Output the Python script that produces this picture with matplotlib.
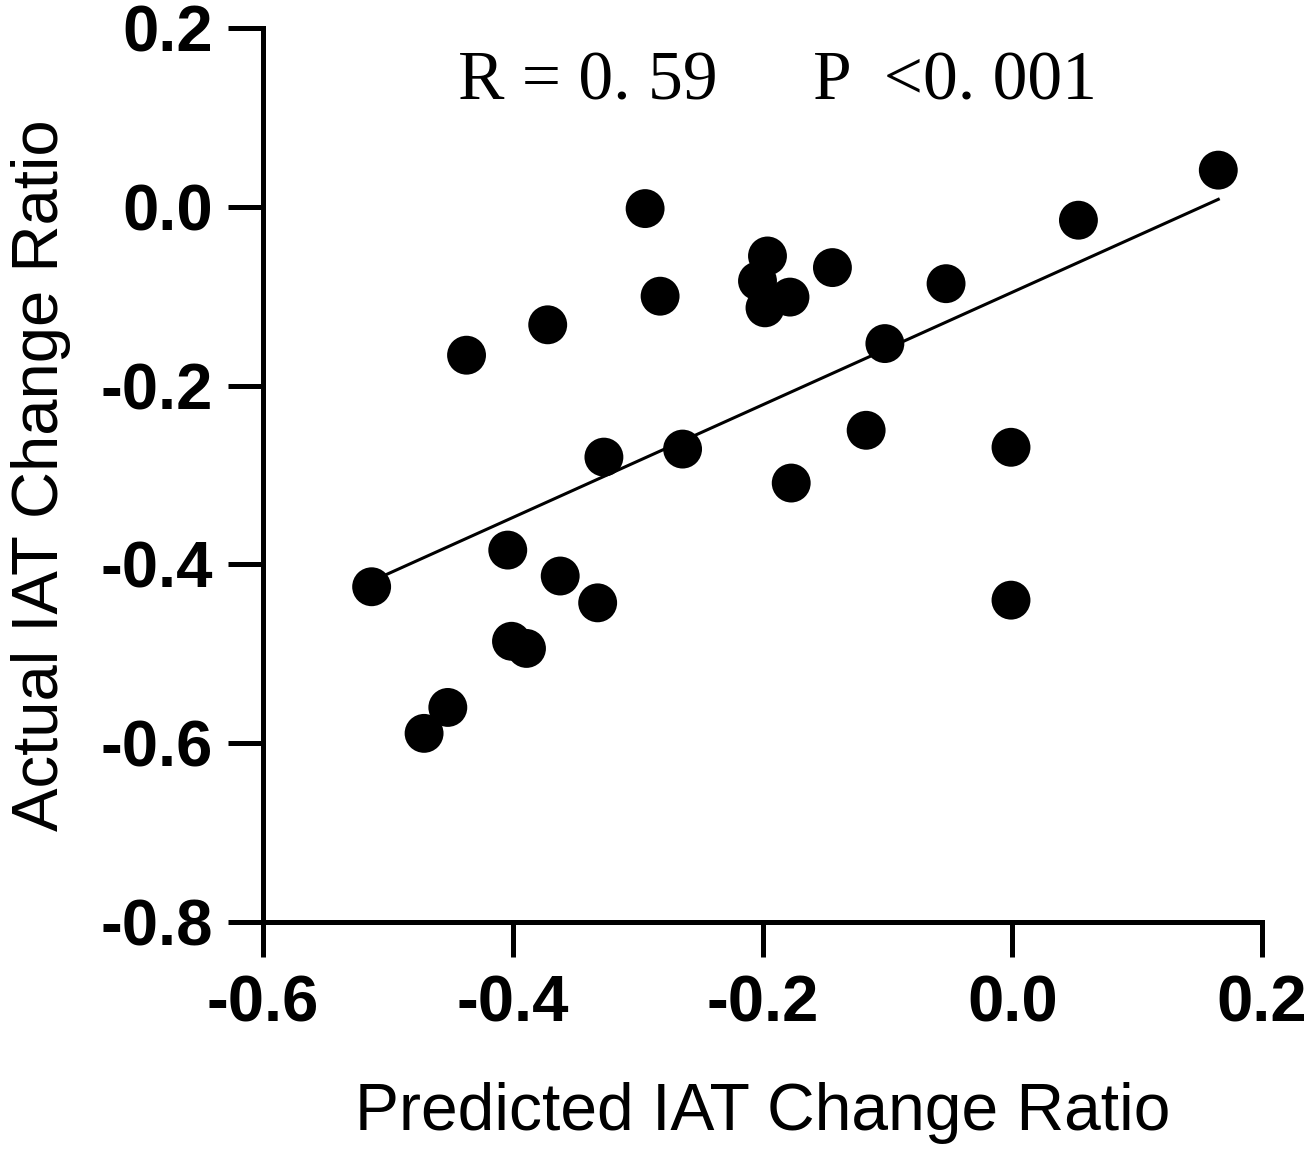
import numpy as np
import matplotlib
matplotlib.use("Agg")
import matplotlib.pyplot as plt

# Data
predicted = [-0.513, -0.471, -0.452, -0.437, -0.404, -0.401, -0.389, -0.372, -0.362,
             -0.332, -0.327, -0.294, -0.282, -0.264, -0.204, -0.196, -0.198, -0.178,
             -0.177, -0.144, -0.117, -0.102, -0.053, -0.001, -0.001, 0.053, 0.165]
actual = [-0.425, -0.589, -0.560, -0.166, -0.384, -0.486, -0.494, -0.132, -0.413,
          -0.443, -0.280, -0.002, -0.100, -0.271, -0.083, -0.055, -0.113, -0.101,
          -0.309, -0.068, -0.250, -0.153, -0.086, -0.269, -0.440, -0.015, 0.041]
x_ticks = [-0.6, -0.4, -0.2, 0.0, 0.2]
y_ticks = [0.2, 0.0, -0.2, -0.4, -0.6, -0.8]
annotation_r = "R = 0. 59"
annotation_p = "P  <0. 001"
x_label = "Predicted IAT Change Ratio"
y_label = "Actual IAT Change Ratio"

x = np.array(predicted)
y = np.array(actual)

fig = plt.figure(figsize=(13.1, 11.55), dpi=100)
ax = fig.add_axes([263/1310, 233/1155, (1262-263)/1310, (922-28)/1155])

ax.scatter(x, y, s=28**2, c="black", edgecolors="none", zorder=3)

slope, intercept = np.polyfit(x, y, 1)
xl = np.array([x.min(), x.max()])
ax.plot(xl, slope*xl + intercept, color="black", lw=2.2, zorder=2)

ax.set_xlim(-0.6, 0.2)
ax.set_ylim(-0.8, 0.2)
ax.set_xticks(x_ticks)
ax.set_yticks(y_ticks)
ax.set_xticklabels([f"{v:.1f}" for v in x_ticks])
ax.set_yticklabels([f"{v:.1f}" for v in y_ticks])

for s in ["top", "right"]:
    ax.spines[s].set_visible(False)
for s in ["left", "bottom"]:
    ax.spines[s].set_linewidth(3.6)
    ax.spines[s].set_capstyle("projecting")

ax.tick_params(axis="both", direction="out", length=25, width=3.6, labelsize=47)
ax.tick_params(axis="y", pad=11)
ax.tick_params(axis="x", pad=13)
for lab in ax.get_xticklabels() + ax.get_yticklabels():
    lab.set_fontfamily("Liberation Sans")
    lab.set_fontweight("bold")

ax.set_xlabel(x_label, fontsize=47.5, fontfamily="Liberation Sans", labelpad=34)
ax.set_ylabel(y_label, fontsize=47, fontfamily="Liberation Sans", labelpad=21)

ax.text(-0.4438, 0.1195, annotation_r, fontsize=50, fontfamily="Liberation Serif",
        va="baseline", ha="left")
ax.text(-0.1596, 0.1195, annotation_p, fontsize=50, fontfamily="Liberation Serif",
        va="baseline", ha="left")

fig.savefig("out.png", dpi=100)
